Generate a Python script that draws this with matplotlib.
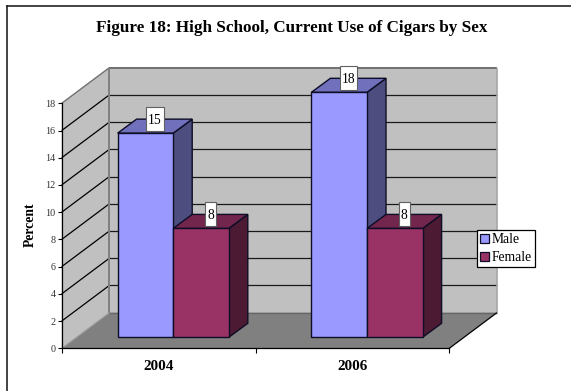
import matplotlib
matplotlib.use("Agg")
import matplotlib.pyplot as plt
from matplotlib.patches import Polygon, Patch, Rectangle
from matplotlib.lines import Line2D

plt.rcParams["font.family"] = ["Liberation Serif", "DejaVu Serif"]

# Chart data
years = ["2004", "2006"]
series_names = ["Male", "Female"]
male_values = [15, 18]
female_values = [8, 8]
y_ticks = list(range(0, 20, 2))

title = "Figure 18: High School, Current Use of Cigars by Sex"
y_label = "Percent"

# Colours for the faces of each series: front, top, side
male_faces = ("#9999FF", "#7070BC", "#4D4D80")
female_faces = ("#993366", "#73264D", "#4D1A33")
WALL = "#C0C0C0"
FLOOR = "#808080"

W, H = 571, 391
fig = plt.figure(figsize=(W / 100, H / 100), dpi=100, facecolor="white")

# Page frame: only the left and top rules fall inside the canvas
fig.add_artist(Line2D([7.2 / W, 7.2 / W], [0, 1 - 6.3 / H], color="#111111", lw=1.1))
fig.add_artist(Line2D([7.2 / W, 1], [1 - 6.3 / H] * 2, color="#111111", lw=1.1))

# The axes are the front plane of the 3-D box
left, right, top, bottom = 61.7, 449.3, 103.3, 348.3
ax = fig.add_axes([left / W, 1 - bottom / H, (right - left) / W, (bottom - top) / H])
ax.set_xlim(0, 2)
ax.set_ylim(0, 18)
ax.patch.set_visible(False)

px_x = (right - left) / 2    # pixels per category
px_y = (bottom - top) / 18   # pixels per percent
depth_x, depth_y = 47.6 / px_x, 35.6 / px_y
shift_x, shift_y = 14.6 / px_x, 11.0 / px_y
bar_w = 55.6 / px_x
bar_dx, bar_dy = 19.0 / px_x, 14.0 / px_y
ymax = y_ticks[-1]
xmax = len(years)


def poly(points, face, edge="none", lw=0.0, z=1):
    ax.add_patch(Polygon(points, closed=True, facecolor=face, edgecolor=edge,
                         linewidth=lw, clip_on=False, zorder=z, joinstyle="miter"))


def seg(xs, ys, color="black", lw=0.9, z=2):
    ax.add_line(Line2D(xs, ys, color=color, lw=lw, clip_on=False, zorder=z,
                       solid_capstyle="butt"))


# Walls and floor
poly([(0, 0), (depth_x, depth_y), (depth_x, ymax + depth_y), (0, ymax)], WALL)
poly([(depth_x, depth_y), (xmax + depth_x, depth_y),
      (xmax + depth_x, ymax + depth_y), (depth_x, ymax + depth_y)], WALL)
poly([(0, 0), (xmax, 0), (xmax + depth_x, depth_y), (depth_x, depth_y)], FLOOR)

# Gridlines run along the side wall and across the back wall
for v in y_ticks[1:-1]:
    seg([0, depth_x], [v, v + depth_y])
    seg([depth_x, xmax + depth_x], [v + depth_y, v + depth_y], color="#1a1a1a")

# Box outlines
seg([0, depth_x], [ymax, ymax + depth_y], color="#707070", lw=1.0)
seg([depth_x, xmax + depth_x], [ymax + depth_y] * 2, color="#707070", lw=1.4)
seg([depth_x, depth_x], [depth_y, ymax + depth_y], color="#808080", lw=1.4)
seg([xmax + depth_x] * 2, [depth_y, ymax + depth_y], color="#A6A6A6", lw=1.2)
seg([depth_x, xmax + depth_x], [depth_y, depth_y], color="#666666", lw=1.0)
seg([0, depth_x], [0, depth_y], color="#A0A0A0", lw=0.8)
seg([xmax, xmax + depth_x], [0, depth_y], color="black", lw=0.9)


def bar(x0, value, faces, z):
    front, topface, side = faces
    x1 = x0 + bar_w
    y0 = shift_y
    y1 = shift_y + value
    edge = dict(edge="#0d0d26", lw=1.0)
    poly([(x1, y0), (x1 + bar_dx, y0 + bar_dy), (x1 + bar_dx, y1 + bar_dy), (x1, y1)], side, z=z, **edge)
    poly([(x0, y1), (x1, y1), (x1 + bar_dx, y1 + bar_dy), (x0 + bar_dx, y1 + bar_dy)], topface, z=z, **edge)
    poly([(x0, y0), (x1, y0), (x1, y1), (x0, y1)], front, z=z + 0.1, **edge)

    # Value tag: a tall white box centred on the back edge of the top face
    text = str(value)
    cx = x0 + bar_w / 2 + bar_dx / 2
    cy = y1 + bar_dy
    half_w = (6.5 * len(text) + 4.5) / 2 / px_x
    half_h = 12.0 / px_y
    ax.add_patch(Rectangle((cx - half_w, cy - half_h), 2 * half_w, 2 * half_h,
                           facecolor="white", edgecolor="#606060", linewidth=0.8,
                           clip_on=False, zorder=20))
    ax.text(cx, cy, text, ha="center", va="center_baseline", fontsize=9.8,
            color="black", zorder=21, clip_on=False)


for i in range(len(years)):
    centre = i + 0.5 + shift_x
    bar(centre - bar_w, male_values[i], male_faces, 5 + i)
    bar(centre, female_values[i], female_faces, 5.5 + i)

# Axes furniture
for name in ("top", "right"):
    ax.spines[name].set_visible(False)
for name in ("left", "bottom"):
    ax.spines[name].set_color("black")
    ax.spines[name].set_linewidth(0.9)
    ax.spines[name].set_zorder(3)
ax.set_yticks(y_ticks)
ax.set_yticklabels([str(t) for t in y_ticks], fontsize=7.3, color="#333333")
ax.tick_params(axis="y", length=3.2, width=0.8, pad=1.2, color="black")
ax.set_xticks(range(xmax + 1))
ax.set_xticklabels([""] * (xmax + 1))
ax.tick_params(axis="x", length=3.6, width=0.8, color="black")
ax.set_xticks([i + 0.5 for i in range(xmax)], minor=True)
ax.set_xticklabels(years, minor=True, fontsize=10.9, fontweight="bold")
ax.tick_params(axis="x", which="minor", length=0, pad=8.5)

fig.text(291.5 / W, 1 - 28.3 / H, title, ha="center", va="center",
         fontsize=12.3, fontweight="bold", color="black")
fig.text(30.5 / W, 1 - 224.5 / H, y_label, ha="center", va="center",
         rotation=90, fontsize=9.8, fontweight="bold", color="black")

# Legend box sits over the right edge of the back wall
handles = [Patch(facecolor=male_faces[0], edgecolor="#0d0d26", linewidth=0.9),
           Patch(facecolor=female_faces[0], edgecolor="#0d0d26", linewidth=0.9)]
leg = fig.legend(handles, series_names, loc="center left",
                 bbox_to_anchor=(476.7 / W, 1 - 248.8 / H), bbox_transform=fig.transFigure,
                 fontsize=9.8, frameon=True, fancybox=False, framealpha=1,
                 edgecolor="black", facecolor="white", borderpad=0.22,
                 handlelength=0.7, handleheight=0.7, handletextpad=0.2,
                 labelspacing=0.38, borderaxespad=0)
leg.get_frame().set_linewidth(0.9)
leg.set_zorder(30)

fig.savefig("out.png", dpi=100, facecolor="white")
